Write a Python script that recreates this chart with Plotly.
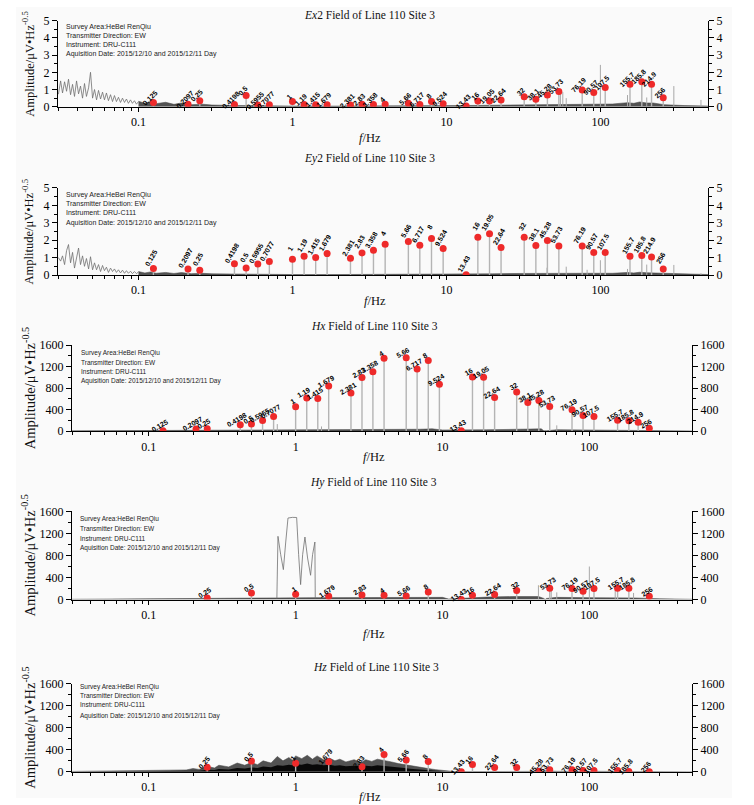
import math
import plotly.graph_objects as go

W, H = 754, 805

# ------------------------------------------------------------------ data
freq_all = [0.125, 0.2097, 0.25, 0.4198, 0.5, 0.5955, 0.7077, 1, 1.19, 1.415, 1.679,
            2.381, 2.83, 3.358, 4, 5.66, 6.717, 8, 9.524, 13.43, 16, 19.05, 22.64,
            32, 38.1, 45.28, 53.73, 76.19, 90.57, 107.5, 155.7, 185.8, 214.9, 256]
label_all = ["0.125", "0.2097", "0.25", "0.4198", "0.5", "0.5955", "0.7077", "1", "1.19",
             "1.415", "1.679", "2.381", "2.83", "3.358", "4", "5.66", "6.717", "8", "9.524",
             "13.43", "16", "19.05", "22.64", "32", "38.1", "45.28", "53.73", "76.19",
             "90.57", "107.5", "155.7", "185.8", "214.9", "256"]

ex_amp = [0.25, 0.15, 0.35, 0.13, 0.65, 0.10, 0.12, 0.30, 0.13, 0.12, 0.12, 0.10, 0.15, 0.13,
          0.15, 0.20, 0.13, 0.30, 0.17, 0.04, 0.33, 0.33, 0.39, 0.58, 0.44, 0.68, 0.89,
          0.98, 0.83, 1.12, 1.31, 1.45, 1.31, 0.52]
ey_amp = [0.38, 0.35, 0.27, 0.65, 0.40, 0.63, 0.77, 0.90, 1.08, 1.00, 1.23, 0.96, 1.27, 1.42,
          1.77, 1.92, 1.71, 2.10, 1.52, 0.02, 2.17, 2.37, 1.58, 2.17, 1.69, 1.98, 1.67,
          1.67, 1.29, 1.29, 1.08, 1.12, 1.04, 0.35]
hx_amp = [12, 43, 49, 122, 134, 201, 274, 456, 620, 608, 839, 711, 997, 1107, 1356, 1368,
          1155, 1313, 876, 12, 1009, 1003, 626, 730, 535, 571, 462, 401, 292, 274, 207,
          195, 170, 55]

hy_freq = [0.25, 0.5, 1, 1.679, 2.83, 4, 5.66, 8, 13.43, 16, 22.64, 32, 53.73, 76.19,
           90.57, 107.5, 155.7, 185.8, 256]
hy_labels = ["0.25", "0.5", "1", "1.679", "2.83", "4", "5.66", "8", "13.43", "16", "22.64",
             "32", "53.73", "76.19", "90.57", "107.5", "155.7", "185.8", "256"]
hy_amp = [30, 121, 97, 60, 85, 79, 66, 139, 0, 79, 91, 163, 205, 199, 151, 199, 205, 205, 60]

hz_freq = [0.25, 0.5, 1, 1.679, 2.83, 4, 5.66, 8, 13.43, 16, 22.64, 32, 45.28, 53.73,
           76.19, 90.57, 107.5, 155.7, 185.8, 256]
hz_labels = ["0.25", "0.5", "1", "1.679", "2.83", "4", "5.66", "8", "13.43", "16", "22.64",
             "32", "45.28", "53.73", "76.19", "90.57", "107.5", "155.7", "185.8", "256"]
hz_amp = [85, 195, 158, 182, 91, 316, 213, 188, 0, 134, 79, 79, 10, 36, 36, 24, 24, 24, 6, 0]

# low-frequency raw spectrum
lf_freq = [0.0302, 0.0312, 0.0321, 0.0331, 0.0341, 0.0351, 0.0362, 0.0373, 0.0384, 0.0396,
           0.0408, 0.0420, 0.0433, 0.0446, 0.0459, 0.0474, 0.0488, 0.0503, 0.0518, 0.0534,
           0.0550, 0.0567, 0.0584, 0.0601, 0.0619, 0.0638, 0.0658, 0.0678, 0.0698, 0.0719,
           0.0741, 0.0764, 0.0787, 0.0811, 0.0835, 0.0860, 0.0887, 0.0913, 0.0941, 0.0970,
           0.1000]
ex_lf_amp = [0.73, 1.5, 0.8, 1.45, 0.9, 1.6, 0.7, 1.3, 0.6, 1.5, 0.75, 1.2, 0.5, 1.35, 0.6,
             1.1, 2.0, 0.5, 1.0, 0.4, 0.95, 0.45, 0.85, 0.4, 0.8, 0.35, 0.7, 0.3, 0.65, 0.3,
             0.55, 0.25, 0.5, 0.25, 0.45, 0.2, 0.4, 0.2, 0.35, 0.15, 0.3]
ey_lf_amp = [1.0, 0.8, 1.1, 0.6, 1.4, 1.75, 0.7, 1.3, 0.4, 1.0, 1.55, 0.6, 1.1, 0.5, 0.95,
             0.35, 1.05, 0.3, 0.7, 0.3, 0.6, 0.2, 0.55, 0.25, 0.45, 0.15, 0.4, 0.2, 0.35,
             0.15, 0.3, 0.12, 0.28, 0.1, 0.25, 0.1, 0.22, 0.08, 0.2, 0.08, 0.18]

# dense-noise upper envelopes
e_band_freq = [0.1, 0.11, 0.12, 0.13, 0.15, 0.17, 0.19, 0.22, 0.26, 0.3, 0.4, 0.6, 1, 2, 4,
               7, 10, 13, 20, 30, 50, 80, 120, 150, 165, 180, 200, 220, 260, 350, 500]
ex_band_hi = [0.32, 0.2, 0.3, 0.18, 0.26, 0.14, 0.22, 0.12, 0.15, 0.1, 0.08, 0.05, 0.04, 0.04,
              0.04, 0.05, 0.06, 0.07, 0.09, 0.11, 0.13, 0.14, 0.16, 0.24, 0.2, 0.28, 0.22,
              0.22, 0.12, 0.07, 0.04]
ey_band_hi = [0.2, 0.12, 0.18, 0.1, 0.15, 0.09, 0.14, 0.08, 0.1, 0.07, 0.06, 0.04, 0.03, 0.03,
              0.03, 0.04, 0.04, 0.05, 0.07, 0.09, 0.11, 0.1, 0.1, 0.15, 0.12, 0.16, 0.13,
              0.12, 0.08, 0.05, 0.03]

hx_band_freq = [0.03, 0.1, 0.3, 0.7, 1, 3, 7, 8.5, 10, 20, 40, 47, 49, 51, 60, 100, 150,
                200, 300, 500]
hx_band_hi = [8, 12, 18, 22, 25, 28, 38, 45, 25, 28, 40, 45, 10, 10, 30, 25, 30, 28, 15, 6]

hy_band_freq = [0.03, 0.1, 0.3, 0.5, 0.74, 1.37, 2, 5, 8, 10, 11, 14, 20, 30, 45, 49, 50,
                51, 60, 100, 150, 200, 300, 500]
hy_band_hi = [5, 10, 18, 25, 30, 35, 38, 38, 45, 40, 10, 25, 45, 55, 55, 20, 0, 20, 40, 35,
              40, 30, 15, 5]

hz_band_freq = [0.03, 0.04, 0.05, 0.07, 0.1, 0.12, 0.15, 0.18, 0.2, 0.22, 0.25, 0.28, 0.3,
                0.35, 0.4, 0.45, 0.5, 0.55, 0.6, 0.68, 0.75, 0.82, 0.9, 0.95, 1.0, 1.1, 1.2,
                1.3, 1.4, 1.55, 1.7, 1.85, 2.0, 2.2, 2.5, 2.8, 3.0, 3.3, 3.6, 4.0, 4.5, 5.0,
                5.5, 6.0, 7.0, 8.0, 9.0, 10.5, 12, 20, 40, 47, 50, 60, 100, 200, 500]
hz_band_hi = [8, 12, 15, 22, 30, 25, 40, 35, 60, 45, 100, 70, 120, 90, 160, 120, 170, 130,
              200, 160, 280, 200, 260, 210, 290, 240, 300, 230, 290, 220, 250, 200, 230,
              180, 220, 170, 220, 190, 230, 210, 180, 150, 130, 110, 80, 60, 40, 15, 5, 5,
              5, 10, 20, 10, 10, 5, 3]
hz_core_hi = [3, 5, 6, 9, 12, 12, 16, 16, 25, 22, 40, 35, 50, 45, 70, 60, 80, 70, 95, 85,
              120, 110, 130, 120, 140, 130, 150, 130, 140, 120, 130, 110, 120, 100, 110, 95,
              110, 100, 120, 110, 95, 80, 70, 55, 40, 30, 20, 8, 3, 3, 3, 5, 10, 5, 5, 3, 2]

# isolated spectral spikes
ex_spike_freq = [55, 57, 60, 100, 150, 200, 300, 450]
ex_spike_amp = [0.9, 0.85, 0.5, 2.43, 0.68, 0.54, 1.2, 0.4]
ey_spike_freq = [45, 60, 82, 100, 150, 200, 300, 450]
ey_spike_amp = [0.42, 0.48, 0.3, 0.85, 0.35, 0.6, 0.58, 0.1]
hx_spike_freq = [0.75, 1.5, 60]
hx_spike_amp = [134, 90, 110]
hy_spike_freq = [45, 55, 60, 100, 150, 200]
hy_spike_amp = [260, 200, 130, 600, 170, 120]
hz_spike_freq = [47]
hz_spike_amp = [150]

# Hy 1 Hz interference block
hy_res_freq = [0.745, 0.758, 0.791, 0.825, 0.855, 0.887, 0.95, 1.016, 1.048, 1.081, 1.116,
               1.157, 1.206, 1.264, 1.304, 1.352, 1.36]
hy_res_amp = [20, 1148, 815, 544, 1027, 1480, 1492, 1490, 815, 272, 815, 1135, 755, 441,
              815, 1045, 20]

info_lines = ["Survey Area:HeBei RenQiu", "Transmitter Direction: EW",
              "Instrument: DRU-C111", "Aquisition Date: 2015/12/10 and 2015/12/11 Day"]

e_ticks = [0, 1, 2, 3, 4, 5]
h_ticks = [0, 400, 800, 1200, 1600]
x_ticks = [0.1, 1, 10, 100]
x_ticktext = ["0.1", "1", "10", "100"]

# ------------------------------------------------------------------ panels
panels = [
    dict(title="<i>Ex</i>2 Field of Line 110 Site 3", f=freq_all, a=ex_amp, lab=label_all,
         bf=e_band_freq, bhi=ex_band_hi, core=None, sf=ex_spike_freq, sa=ex_spike_amp,
         wf=lf_freq, wa=ex_lf_amp, ymax=5, ticks=e_ticks, minor_step=0.5,
         x0=58, x1=708, yt=20, yb=106, tx=369, ty=14, fx=370, fy=137, ix=64,
         iy=[26, 35, 44, 53], ang=-45, dx=-3, dy=-5, isz=7, ytx=28, ytsz=12.5),
    dict(title="<i>Ey</i>2 Field of Line 110 Site 3", f=freq_all, a=ey_amp, lab=label_all,
         bf=e_band_freq, bhi=ey_band_hi, core=None, sf=ey_spike_freq, sa=ey_spike_amp,
         wf=lf_freq, wa=ey_lf_amp, ymax=5, ticks=e_ticks, minor_step=0.5,
         x0=58, x1=708, yt=187, yb=274, tx=369, ty=158, fx=375, fy=300, ix=64,
         iy=[194, 203, 212, 222], ang=-60, dx=-2, dy=-11, isz=7, ytx=28, ytsz=12.5),
    dict(title="<i>Hx</i> Field of Line 110 Site 3", f=freq_all, a=hx_amp, lab=label_all,
         bf=hx_band_freq, bhi=hx_band_hi, core=None, sf=hx_spike_freq, sa=hx_spike_amp,
         wf=None, wa=None, ymax=1600, ticks=h_ticks, minor_step=200,
         x0=72, x1=692, yt=344, yb=430, tx=374, ty=325, fx=374, fy=456, ix=79,
         iy=[352, 361, 370, 380], ang=-30, dx=-3, dy=-5, isz=6.5, ytx=29, ytsz=14.5),
    dict(title="<i>Hy</i> Field of Line 110 Site 3", f=hy_freq, a=hy_amp, lab=hy_labels,
         bf=hy_band_freq, bhi=hy_band_hi, core=None, sf=hy_spike_freq, sa=hy_spike_amp,
         wf=hy_res_freq, wa=hy_res_amp, ymax=1600, ticks=h_ticks, minor_step=200,
         x0=72, x1=692, yt=510, yb=598, tx=373, ty=481, fx=374, fy=632, ix=78,
         iy=[518, 527, 537, 547], ang=-33, dx=-2, dy=-5, isz=6.5, ytx=29, ytsz=14.5),
    dict(title="<i>Hz</i> Field of Line 110 Site 3", f=hz_freq, a=hz_amp, lab=hz_labels,
         bf=hz_band_freq, bhi=hz_band_hi, core=hz_core_hi, sf=hz_spike_freq,
         sa=hz_spike_amp, wf=None, wa=None, ymax=1600, ticks=h_ticks, minor_step=200,
         x0=72, x1=692, yt=682, yb=770, tx=376, ty=665, fx=370, fy=795, ix=78,
         iy=[685, 694, 703, 714], ang=-50, dx=-3, dy=-5, isz=6.5, ytx=29, ytsz=14.5),
]

# the photographed page maps layout y to 0.981*y + 6.4; compensate so marks land right
Y_SCALE, Y_OFF = 0.981, 6.4


def pxx(v):
    return v / W


def pxy(v):
    return 1 - ((v - Y_OFF) / Y_SCALE) / H


SERIF = "Liberation Serif"
SANS = "Liberation Sans"
x_range = [math.log10(0.03), math.log10(500)]
x_minor = [m * 10 ** e for e in range(-2, 3) for m in range(2, 10)
           if 0.03 <= m * 10 ** e <= 500]

fig = go.Figure()
annotations = []
layout = {}

for i, p in enumerate(panels, start=1):
    sx = "" if i == 1 else str(i)
    xa, ya = "x" + sx, "y" + sx
    yr = "y" + str(i + 5)
    common = dict(xaxis=xa, yaxis=ya, hoverinfo="skip", showlegend=False)

    # dense noise band
    fig.add_trace(go.Scatter(x=p["bf"], y=p["bhi"], mode="lines", fill="tozeroy",
                             fillcolor="rgba(40,40,40,0.8)",
                             line=dict(width=0.6, color="rgba(70,70,70,0.9)"), **common))
    if p["core"] is not None:
        fig.add_trace(go.Scatter(x=p["bf"], y=p["core"], mode="lines", fill="tozeroy",
                                 fillcolor="rgba(0,0,0,0.9)",
                                 line=dict(width=0, color="rgba(0,0,0,0)"), **common))
    # raw low-frequency spectrum / resonance block
    if p["wf"] is not None:
        fig.add_trace(go.Scatter(x=p["wf"], y=p["wa"], mode="lines",
                                 line=dict(width=0.8, color="#707070"), **common))
    # isolated spikes
    sx_, sy_ = [], []
    for f, a in zip(p["sf"], p["sa"]):
        sx_ += [f, f, None]
        sy_ += [0, a, None]
    fig.add_trace(go.Scatter(x=sx_, y=sy_, mode="lines",
                             line=dict(width=1, color="#a8a8a8"), **common))
    # stems to the red points
    tx_, ty_ = [], []
    for f, a in zip(p["f"], p["a"]):
        tx_ += [f, f, None]
        ty_ += [0, a, None]
    fig.add_trace(go.Scatter(x=tx_, y=ty_, mode="lines",
                             line=dict(width=1.4, color="#b4b4b4"), **common))
    # red points
    fig.add_trace(go.Scatter(x=p["f"], y=p["a"], mode="markers",
                             marker=dict(size=7, color="#ee2a2a"), **common))
    # dummy trace for right axis
    fig.add_trace(go.Scatter(x=[1], y=[0], mode="markers", marker=dict(opacity=0),
                             xaxis=xa, yaxis=yr, hoverinfo="skip", showlegend=False))

    ydom = [pxy(p["yb"]), pxy(p["yt"])]
    xdom = [pxx(p["x0"]), pxx(p["x1"])]
    nmin = int(round(p["ymax"] / p["minor_step"]))
    yminor = [k * p["minor_step"] for k in range(nmin + 1)]
    yaxis_common = dict(range=[0, p["ymax"]], domain=ydom, showline=True, linecolor="black",
                        linewidth=1, ticks="outside", ticklen=5, tickcolor="black",
                        tickvals=p["ticks"], ticktext=[str(t) for t in p["ticks"]],
                        tickfont=dict(family=SERIF, size=12, color="black"),
                        minor=dict(tickvals=yminor, ticks="outside", ticklen=3,
                                   tickcolor="black"),
                        showgrid=False, zeroline=False, fixedrange=True)
    layout["xaxis" + sx] = dict(type="log", range=x_range, domain=xdom, anchor=ya,
                                showline=True, linecolor="black", linewidth=1,
                                ticks="outside", ticklen=4, tickcolor="black",
                                tickvals=x_ticks, ticktext=x_ticktext,
                                tickfont=dict(family=SERIF, size=12, color="black"),
                                minor=dict(tickvals=x_minor, ticks="outside", ticklen=3,
                                           tickcolor="black"),
                                showgrid=False, zeroline=False, fixedrange=True)
    layout["yaxis" + sx] = dict(anchor=xa, side="left", **yaxis_common)
    layout["yaxis" + str(i + 5)] = dict(anchor=xa, side="right", overlaying=ya,
                                        **yaxis_common)

    # point labels
    for f, a, lab in zip(p["f"], p["a"], p["lab"]):
        annotations.append(dict(x=math.log10(f), y=a, xref=xa, yref=ya, text=lab,
                                showarrow=False, textangle=p["ang"],
                                xanchor="center", yanchor="middle",
                                xshift=p["dx"], yshift=-p["dy"],
                                font=dict(family=SANS, size=7, color="black",
                                          weight="bold")))
    # title
    annotations.append(dict(x=pxx(p["tx"]), y=pxy(p["ty"]), xref="paper", yref="paper",
                            text=p["title"], showarrow=False, xanchor="center",
                            yanchor="middle",
                            font=dict(family=SERIF, size=11.5, color="#111")))
    # x title
    annotations.append(dict(x=pxx(p["fx"]), y=pxy(p["fy"]), xref="paper", yref="paper",
                            text="<i>f</i>/Hz", showarrow=False, xanchor="center",
                            yanchor="middle",
                            font=dict(family=SERIF, size=12.5, color="#111")))
    # y title
    annotations.append(dict(x=pxx(p["ytx"]), y=(ydom[0] + ydom[1]) / 2, xref="paper",
                            yref="paper", text="Amplitude/μV•Hz<sup>-0.5</sup>",
                            showarrow=False, textangle=-90, xanchor="center",
                            yanchor="middle",
                            font=dict(family=SERIF, size=p["ytsz"], color="#111")))
    # info block
    for line, yy in zip(info_lines, p["iy"]):
        annotations.append(dict(x=pxx(p["ix"]), y=pxy(yy), xref="paper", yref="paper",
                                text=line, showarrow=False, xanchor="left",
                                yanchor="middle",
                                font=dict(family=SANS, size=p["isz"], color="#222")))

fig.update_layout(
    width=W, height=H, margin=dict(l=0, r=0, t=0, b=0),
    paper_bgcolor="white", plot_bgcolor="rgba(0,0,0,0)",
    showlegend=False, annotations=annotations,
    shapes=[dict(type="rect", xref="paper", yref="paper", x0=16 / W, x1=732 / W,
                 y0=0, y1=1, fillcolor="#fafafa", line=dict(width=0), layer="below")],
    **layout,
)

fig.write_html("out.html", config={"displayModeBar": False},
               post_script="document.body.style.margin='0px';"
                           "document.body.style.overflow='hidden';")
